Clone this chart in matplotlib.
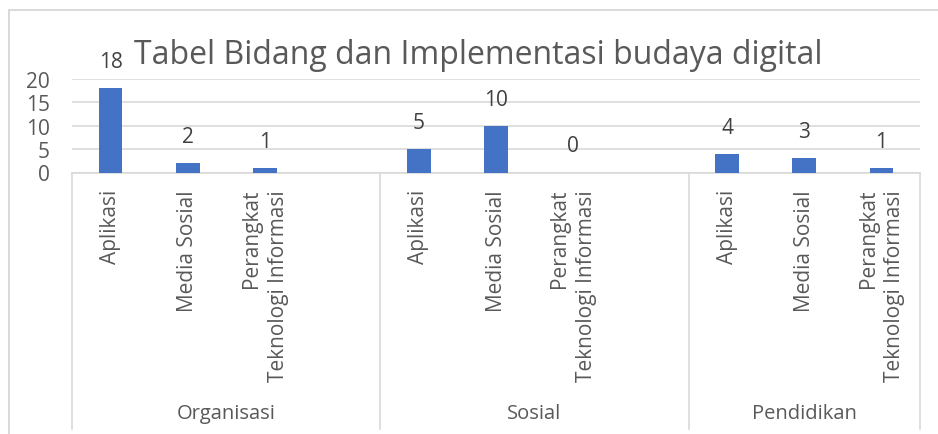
import matplotlib
matplotlib.use('Agg')
import matplotlib.pyplot as plt
from matplotlib.lines import Line2D
from matplotlib.transforms import blended_transform_factory

# Data
groups = ["Organisasi", "Sosial", "Pendidikan"]
subcats = ["Aplikasi", "Media Sosial", "Perangkat\nTeknologi Informasi"]
values = {
    "Organisasi": [18, 2, 1],
    "Sosial": [5, 10, 0],
    "Pendidikan": [4, 3, 1],
}
yticks = [0, 5, 10, 15, 20]
title = "Tabel Bidang dan Implementasi budaya digital"

plt.rcParams['font.family'] = ['Open Sans', 'DejaVu Sans']

W, H = 938, 435
fig = plt.figure(figsize=(W / 100, H / 100), dpi=100, facecolor='white')

# plot area in pixels: x 72..920, y 80..173.5
ax = fig.add_axes([72 / W, (H - 173.5) / H, (920 - 72) / W, (173.5 - 80) / H])

grid_c = '#d9d9d9'
text_c = '#595959'
bar_c = '#4472C4'

# each of the first two groups keeps an empty fourth slot
slots_per_group = [4, 4, 3]
positions, heights = [], []
starts = []
s = 0
for g, n in zip(groups, slots_per_group):
    starts.append(s)
    for j, v in enumerate(values[g]):
        positions.append(s + j)
        heights.append(v)
    s += n
bounds = [st - 0.5 for st in starts] + [s - 0.5]

ax.bar(positions, heights, width=0.31, color=bar_c, zorder=3)
ax.set_xlim(-0.5, s - 0.5)
ax.set_ylim(0, 20)
ax.set_yticks(yticks)
ax.set_yticklabels([str(t) for t in yticks], fontsize=15, color=text_c)
ax.tick_params(axis='y', length=0, pad=16)
ax.set_xticks([])
ax.grid(axis='y', color=grid_c, linewidth=1.2, zorder=0)
for sp in ['top', 'right', 'left']:
    ax.spines[sp].set_visible(False)
ax.spines['bottom'].set_color(grid_c)
ax.spines['bottom'].set_linewidth(1.2)

# data labels
for x, v in zip(positions, heights):
    ax.annotate(str(v), (x, v), xytext=(0, 16), textcoords='offset pixels',
                ha='center', va='bottom', fontsize=15, color='#404040')

# multi-level category axis
tr = blended_transform_factory(ax.transData, fig.transFigure)
for g, st in zip(groups, starts):
    for j, lab in enumerate(subcats):
        ax.text(st + j, (H - 190) / H, lab, transform=tr, rotation=90,
                ha='center', va='top', multialignment='right',
                fontsize=15, color=text_c, linespacing=1.35)
for gi, g in enumerate(groups):
    ax.text((bounds[gi] + bounds[gi + 1]) / 2, (H - 414) / H, g, transform=tr,
            ha='center', va='center', fontsize=14.5, color=text_c)
for b in bounds:
    ax.add_line(Line2D([b, b], [(H - 173.5) / H, (H - 430) / H], transform=tr,
                       color=grid_c, linewidth=1.2, clip_on=False))

# title
fig.text(478 / W, (H - 56) / H, title, ha='center', va='center',
         fontsize=23, color=text_c)

# chart border
fig.add_artist(Line2D([9 / W, 9 / W], [0, (H - 11) / H], transform=fig.transFigure,
                      color=grid_c, linewidth=1.4))
fig.add_artist(Line2D([9 / W, 1], [(H - 11) / H, (H - 11) / H], transform=fig.transFigure,
                      color=grid_c, linewidth=1.4))

fig.savefig('out.png', dpi=100)
